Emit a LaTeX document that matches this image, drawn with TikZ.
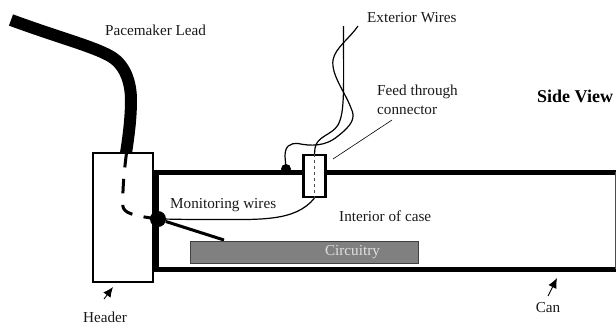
\documentclass[tikz,border=0pt]{standalone}
\usepackage{fontspec}
\usetikzlibrary{arrows.meta}
\setmainfont{Liberation Serif}
\begin{document}
\begin{tikzpicture}[x=1pt,y=-1pt,
  lbl/.style={inner sep=0pt,font=\fontsize{15.2}{18}\selectfont,text=black!90},
  wire/.style={line width=1.2pt,black},
  tip/.style={-{Latex[length=10pt,width=9pt]},line width=0.9pt}]
\useasboundingbox (0,0) rectangle (616,325);
% can
\draw[line width=5pt] (156,172) -- (616,172);
\draw[line width=5pt] (156,269.5) -- (616,269.5);
\draw[line width=5pt] (156,169.5) -- (156,272);
\draw[line width=1pt,black!70] (615,172) -- (615,269);
% header
\node[draw,line width=2pt,fill=white,minimum width=60pt,minimum height=129pt,inner sep=0pt] (header) at (123,217.5) {};
% lead
\coordinate (leadstart) at (11,20);
\coordinate (leadend) at (126,153);
\draw[line width=12pt] (leadstart) .. controls (60,38) and (92,46) .. (110,56)
  .. controls (128,66) and (131,88) .. (131,100)
  .. controls (131,120) and (128,140) .. (leadend);
% blob + inside lead
\node[circle,fill=black,minimum size=16pt,inner sep=0pt] (blob) at (158,219) {};
\draw[line width=3pt,dash pattern=on 14.5pt off 11.5pt] (126.5,153) .. controls (124,172) and (122.5,190) .. (122.8,206)
  .. controls (124,213) and (132,215.5) .. (blob.center);
% lead to circuitry
\coordinate (boardpin) at (224,240);
\draw[line width=3pt] (blob) -- (boardpin);
% circuitry
\node[draw=black!75,line width=0.8pt,fill=black!50,minimum width=228pt,minimum height=22pt,inner sep=0pt] (circ) at (304,252) {};
\node[lbl,text=black!12] (circtext) at (352.5,252) {Circuitry};
% feed through
\node[draw,line width=2.2pt,fill=white,minimum width=22pt,minimum height=42pt,inner sep=0pt] (ft) at (314.5,176) {};
\draw[black!70,line width=0.8pt,dashed] (ft.north) -- (ft.south);
% monitoring wire
\draw[wire] (blob.center) .. controls (170,219) and (175,219.5) .. (210,219.5)
  .. controls (260,219.5) and (295,222) .. (ft.south);
% exterior wires
\coordinate (ext1) at (343.5,26);
\coordinate (ext2) at (358,26);
\draw[wire] (ft.north) -- (315,148) .. controls (317,136) and (332,135) .. (338,125)
  .. controls (345,112) and (343.5,90) .. (ext1);
\node[circle,fill=black,minimum size=10pt,inner sep=0pt] (dot) at (286,169) {};
\draw[wire] (dot.center) -- (285,156) .. controls (285,146) and (290,143) .. (298,143.5)
  .. controls (310,146) and (325,147) .. (338,136)
  .. controls (352,125) and (356,118) .. (351,108)
  .. controls (345,92) and (331,75) .. (333,60)
  .. controls (335,48) and (350,38) .. (ext2);
% leader
\coordinate (ldA) at (333,159);
\coordinate (ldB) at (392,120);
\draw[line width=0.6pt] (ldA) -- (ldB);
% arrows
\coordinate (hA) at (104,299); \coordinate (hB) at (113,287);
\coordinate (cA) at (548,296); \coordinate (cB) at (557,278);
% labels
\node[lbl,anchor=west] (l1) at (105,30.5) {Pacemaker Lead};
\node[lbl,anchor=west] (l2) at (367,17.5) {Exterior Wires};
\node[lbl,anchor=west] (l3a) at (377,91.5) {Feed through};
\node[lbl,anchor=west] (l3b) at (377,110) {connector};
\node[lbl,anchor=west,font=\fontsize{18}{20}\selectfont\bfseries,text=black] (l4) at (537,96) {Side View};
\node[lbl,anchor=west] (l5) at (170,205) {Monitoring wires};
\node[lbl,anchor=west] (l6) at (339,216) {Interior of case};
\node[lbl] (l7) at (105,317) {Header};
\node[lbl] (l8) at (548,308) {Can};
\draw[tip] (hA) -- (hB);
\draw[tip] (cA) -- (cB);
\end{tikzpicture}
\end{document}
